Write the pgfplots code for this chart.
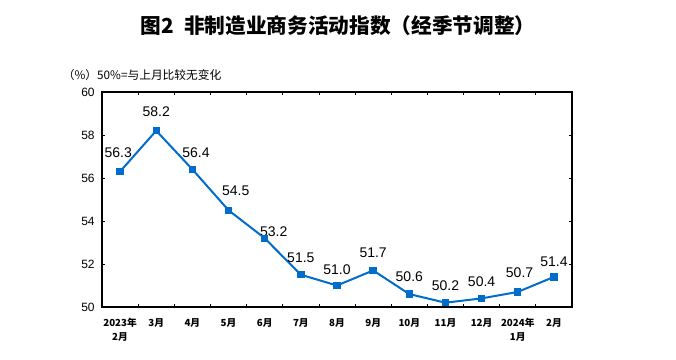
\documentclass[border=0pt]{standalone}
\usepackage{pgfplots}
\pgfplotsset{compat=1.18}
\usepackage{fontspec}
\setmainfont{Liberation Sans}
\newfontfamily\cjk{Noto Sans CJK SC}
\definecolor{lineblue}{RGB}{0,108,204}
\begin{document}
\begin{tikzpicture}
\path[use as bounding box] (0pt,0pt) rectangle (507pt,270pt);
\node[font=\cjk\bfseries\fontsize{15.5}{18}\selectfont] at (253.5pt,250.5pt) {图2\hspace{0.5em}非制造业商务活动指数（经季节调整）};
\node[anchor=west,font=\cjk\fontsize{8.8}{10}\selectfont,inner sep=0pt] at (47pt,213.5pt) {（\%）50\%=与上月比较无变化};
\begin{axis}[
  at={(76.5pt,39.75pt)}, anchor=south west,
  scale only axis, width=352.5pt, height=161.25pt,
  xmin=-0.5, xmax=12.5, ymin=50, ymax=60,
  ytick={50,52,...,60},
  xtick={0,...,12},
  xticklabels={{2023年\\2月},3月,4月,5月,6月,7月,8月,9月,10月,11月,12月,{2024年\\1月},2月},
  minor xtick={0.5,1.5,...,11.5},
  major x tick style={draw=none},
  tick align=inside,
  major tick length=2.5pt, minor tick length=2.5pt,
  tick style={black, line width=0.6pt},
  axis line style={black, line width=0.8pt},
  xticklabel style={font=\cjk\bfseries\fontsize{7.3}{10.5}\selectfont, align=center, yshift=-5pt},
  yticklabel style={font=\fontsize{9}{10}\selectfont, xshift=-2pt},
  /pgf/number format/assume math mode=true,
  clip=false,
]
\addplot[color=lineblue, line width=1.5pt, mark=square*, mark size=2pt, mark options={fill=lineblue}]
 coordinates {(0,56.3)(1,58.2)(2,56.4)(3,54.5)(4,53.2)(5,51.5)(6,51.0)(7,51.7)(8,50.6)(9,50.2)(10,50.4)(11,50.7)(12,51.4)};
\tikzset{lab/.style={font=\fontsize{10.5}{12}\selectfont, inner sep=0pt}}
\node[lab] at (axis cs:-0.05,57.2) {56.3};
\node[lab] at (axis cs:1,59.1) {58.2};
\node[lab] at (axis cs:2.1,57.2) {56.4};
\node[lab] at (axis cs:3.2,55.4) {54.5};
\node[lab] at (axis cs:4.25,53.5) {53.2};
\node[lab] at (axis cs:5,52.3) {51.5};
\node[lab] at (axis cs:6,51.75) {51.0};
\node[lab] at (axis cs:7,52.5) {51.7};
\node[lab] at (axis cs:8,51.4) {50.6};
\node[lab] at (axis cs:9,51.0) {50.2};
\node[lab] at (axis cs:10,51.2) {50.4};
\node[lab] at (axis cs:11.05,51.6) {50.7};
\node[lab] at (axis cs:12,52.1) {51.4};
\end{axis}
\end{tikzpicture}
\end{document}
